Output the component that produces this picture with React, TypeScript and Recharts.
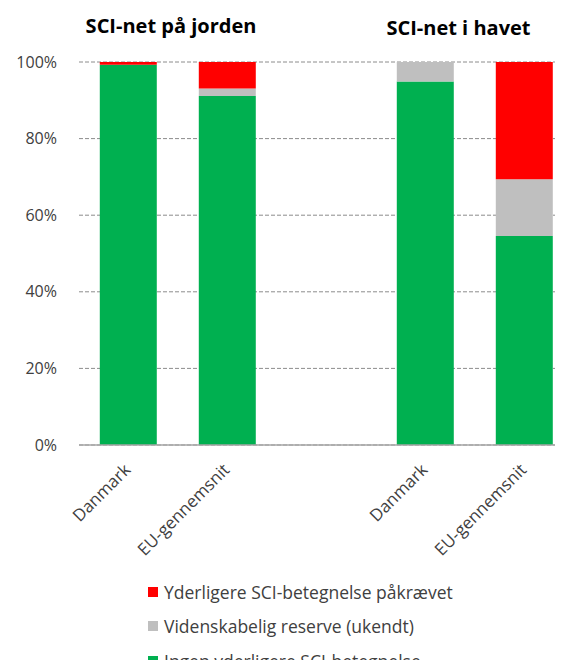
import React from 'react';
import { BarChart, Bar, XAxis, YAxis, CartesianGrid, Legend } from 'recharts';

const categories = ['dk-land', 'eu-land', 'gap', 'dk-sea', 'eu-sea'];
const tickLabels = ['Danmark', 'EU-gennemsnit', '', 'Danmark', 'EU-gennemsnit'];
const ingenValues = [99.3, 91.1, null, 94.9, 54.6];
const reserveValues = [0, 2.0, null, 5.1, 14.8];
const paakraevetValues = [0.7, 6.9, null, 0, 30.6];
const yTicks = [0, 20, 40, 60, 80, 100];
const groupTitles = ['SCI-net på jorden', 'SCI-net i havet'];

const seriesNames = {
  ingen: 'Ingen yderligere SCI-betegnelse',
  reserve: 'Videnskabelig reserve (ukendt)',
  paakraevet: 'Yderligere SCI-betegnelse påkrævet',
};

const data = categories.map((id, i) => ({
  id,
  ingen: ingenValues[i],
  reserve: reserveValues[i],
  paakraevet: paakraevetValues[i],
}));

const FONT = '"Open Sans", sans-serif';

const AngledTick = (props: any) => {
  const { x, y, payload } = props;
  const label = tickLabels[categories.indexOf(payload.value)];
  return (
    <g transform={`translate(${x + 3},${y + 18})`}>
      <text x={0} y={0} textAnchor="end" transform="rotate(-45)" fill="#404040" fontSize={17} fontFamily={FONT}>
        {label}
      </text>
    </g>
  );
};

const LegendList = (props: any) => {
  const items = [...(props.payload || [])].reverse();
  return (
    <div style={{ fontFamily: FONT, fontSize: 17.5, color: '#404040' }}>
      {items.map((item: any) => (
        <div key={item.value} style={{ display: 'flex', alignItems: 'center', height: 34.5 }}>
          <span style={{ width: 10, height: 10, background: item.color, marginRight: 6, display: 'inline-block' }} />
          <span>{item.value}</span>
        </div>
      ))}
    </div>
  );
};

const titleStyle: React.CSSProperties = {
  position: 'absolute',
  width: 200,
  textAlign: 'center',
  fontFamily: FONT,
  fontWeight: 700,
  fontSize: 20,
  color: '#000',
  whiteSpace: 'nowrap',
};

export default function App() {
  return (
    <div style={{ position: 'relative', width: 555, height: 660, overflow: 'hidden', marginBottom: -8 }}>
      <div style={{ ...titleStyle, left: 63, top: 3.5 }}>{groupTitles[0]}</div>
      <div style={{ ...titleStyle, left: 350.5, top: 5.5 }}>{groupTitles[1]}</div>
      <BarChart
        width={575}
        height={660}
        data={data}
        margin={{ top: 54, right: 9, left: 11, bottom: 0 }}
        barCategoryGap="21%"
      >
        <CartesianGrid vertical={false} stroke="#8c8c8c" strokeDasharray="4 2" />
        <XAxis
          dataKey="id"
          height={223}
          interval={0}
          tickLine={false}
          axisLine={{ stroke: '#a6a6a6', strokeWidth: 1.5 }}
          tick={<AngledTick />}
        />
        <YAxis
          width={60}
          domain={[0, 100]}
          ticks={yTicks}
          tickFormatter={(v: number) => `${v}%`}
          axisLine={false}
          tickLine={false}
          tick={{ fill: '#404040', fontSize: 16, fontFamily: FONT, dx: -14 }}
        />
        <Legend
          layout="vertical"
          align="center"
          verticalAlign="middle"
          wrapperStyle={{ left: 140, top: 566.5, width: 420 }}
          content={<LegendList />}
        />
        <Bar dataKey="ingen" name={seriesNames.ingen} stackId="a" fill="#00B050" isAnimationActive={false} />
        <Bar dataKey="reserve" name={seriesNames.reserve} stackId="a" fill="#BFBFBF" isAnimationActive={false} />
        <Bar dataKey="paakraevet" name={seriesNames.paakraevet} stackId="a" fill="#FF0000" isAnimationActive={false} />
      </BarChart>
    </div>
  );
}
